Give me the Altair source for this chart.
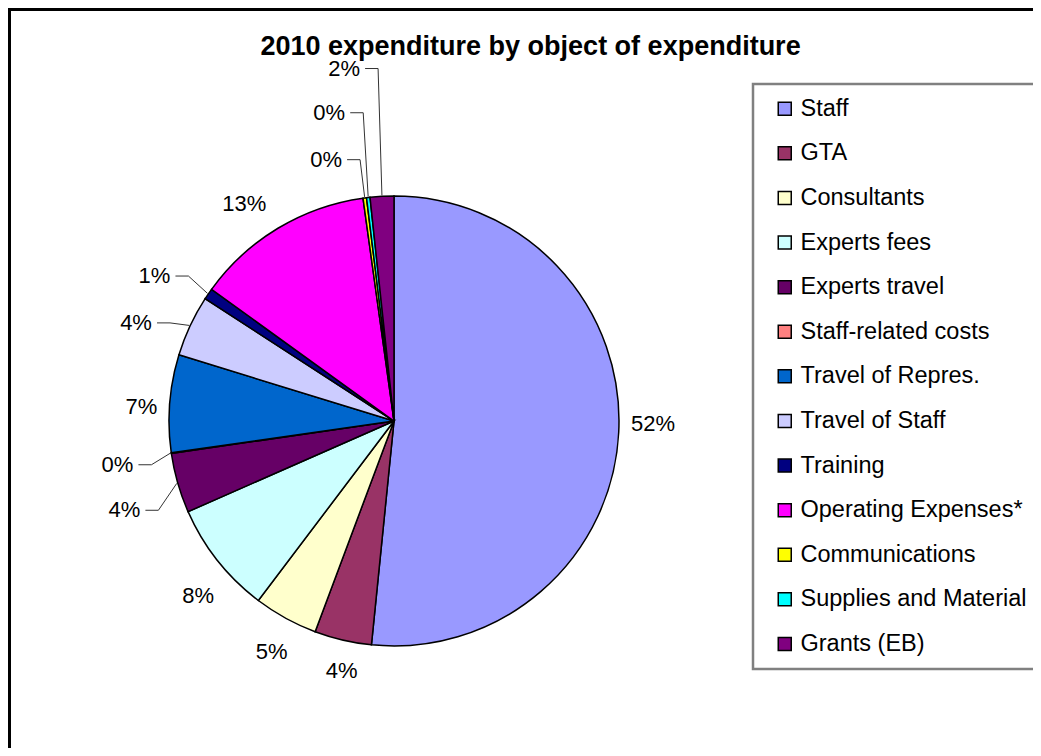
import altair as alt
import pandas as pd

# ---- data ----
categories = ["Staff", "GTA", "Consultants", "Experts fees", "Experts travel",
              "Staff-related costs", "Travel of Repres.", "Travel of Staff",
              "Training", "Operating Expenses*", "Communications",
              "Supplies and Material", "Grants (EB)"]
shares = [51.6, 4.1, 4.6, 8.1, 4.3, 0.05, 7.0, 4.4, 0.8, 12.85, 0.25, 0.25, 1.7]
colors = ["#9999FF", "#993366", "#FFFFCC", "#CCFFFF", "#660066", "#FF8080",
          "#0066CC", "#CCCCFF", "#000080", "#FF00FF", "#FFFF00", "#00FFFF",
          "#800080"]

# ---- label layout (Excel-style outside labels) ----
label_radius = [259, 255, 261.5, 263, 284, 280, 253, 276, 280, 263.5, 270, 315, 356]
label_nudge = [-2.2, -1.3, -0.9, -3.5, -2.3, -0.8, -1.4, -4.2, -3.2, -3.55, -7.1, -5.3, -5.0]
has_leader = [False, False, False, False, True, True, False, True, True, False, True, True, True]

CX, CY, R = 386, 413, 225
W, H = 1025, 740
FONT = "Liberation Sans"

df = pd.DataFrame({
    "category": categories,
    "value": shares,
    "idx": list(range(len(categories))),
    "lr": label_radius,
    "nudge": label_nudge,
    "leader": has_leader,
})

pie = alt.Chart(df).mark_arc(outerRadius=R, stroke="black", strokeWidth=1.5).encode(
    theta=alt.Theta("value:Q", stack=True),
    color=alt.Color(
        "category:N",
        scale=alt.Scale(domain=categories, range=colors),
        sort=categories,
        legend=alt.Legend(
            title=None, orient="none", legendX=745, legendY=76,
            symbolType="square", symbolSize=169, symbolStrokeColor="black",
            symbolStrokeWidth=1.5,
            labelFontSize=23.5, labelFont=FONT, labelColor="black",
            rowPadding=19.6, padding=13, strokeColor="#808080",
            symbolOffset=7, labelOffset=4, labelLimit=400,
        ),
    ),
    order=alt.Order("idx:Q"),
    x=alt.value(CX),
    y=alt.value(CY),
)

geo = alt.Chart(df).transform_window(
    cum="sum(value)", sort=[alt.SortField("idx")], frame=[None, 0]
).transform_joinaggregate(
    total="sum(value)"
).transform_calculate(
    pct="datum.value / datum.total",
    mid="(datum.cum - datum.value / 2) / datum.total * 2 * PI",
).transform_calculate(
    lang="datum.mid + datum.nudge * PI / 180",
).transform_calculate(
    lx=f"{CX} + datum.lr * sin(datum.lang)",
    ly=f"{CY} - datum.lr * cos(datum.lang)",
    ex=f"{CX} + {R + 1} * sin(datum.mid)",
    ey=f"{CY} - {R + 1} * cos(datum.mid)",
).transform_calculate(
    hx1="datum.lx + 21",
    hx2="datum.lx + 34",
)

labels = geo.mark_text(fontSize=22, font=FONT, color="black", align="center",
                       baseline="middle").encode(
    x=alt.X("lx:Q", scale=None),
    y=alt.Y("ly:Q", scale=None),
    text=alt.Text("pct:Q", format=".0%"),
)

lead_h = geo.transform_filter("datum.leader").mark_rule(color="#333333", strokeWidth=1).encode(
    x=alt.X("hx1:Q", scale=None), x2="hx2:Q",
    y=alt.Y("ly:Q", scale=None), y2="ly:Q",
)
lead_d = geo.transform_filter("datum.leader").mark_rule(color="#333333", strokeWidth=1).encode(
    x=alt.X("hx2:Q", scale=None), x2="ex:Q",
    y=alt.Y("ly:Q", scale=None), y2="ey:Q",
)

frame_left = alt.Chart(df).mark_rule(color="black", strokeWidth=3).encode(
    x=alt.value(1.5), y=alt.value(0), y2=alt.value(H)
)
frame_top = alt.Chart(df).mark_rule(color="black", strokeWidth=3).encode(
    x=alt.value(0), x2=alt.value(W), y=alt.value(1.5)
)

chart = alt.layer(frame_left, frame_top, lead_h, lead_d, pie, labels).properties(
    width=W, height=H, padding=0,
    autosize=alt.AutoSizeParams(type="none"),
    title=alt.TitleParams(
        "2010 expenditure by object of expenditure",
        fontSize=27, font=FONT, fontWeight="bold", color="black",
        anchor="start", dx=254, offset=-54,
    ),
).configure_view(stroke=None).configure_legend(strokeWidth=2.5)

chart.save("out.html", embed_options={"renderer": "svg", "actions": False})
